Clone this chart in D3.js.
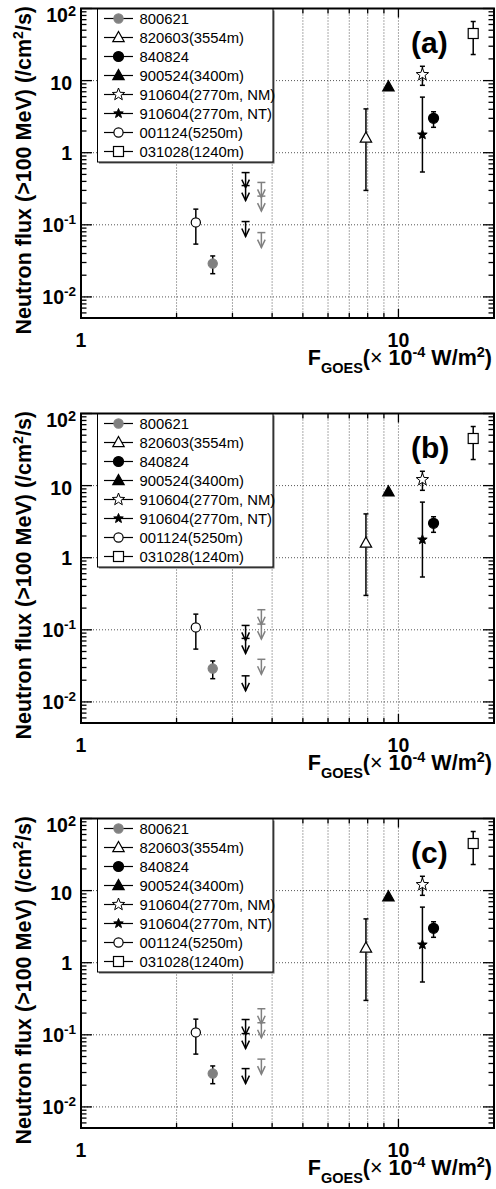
<!DOCTYPE html>
<html><head><meta charset="utf-8">
<script src="https://cdn.jsdelivr.net/npm/d3@7"></script>
<style>body{margin:0;background:#fff}svg{display:block}</style>
</head><body>
<script>
// ---------------- data ----------------
const events = ["800621","820603(3554m)","840824","900524(3400m)","910604(2770m, NM)","910604(2770m, NT)","001124(5250m)","031028(1240m)"];
const goesFlux    = [2.6, 7.9, 12.9, 9.3, 11.9, 11.9, 2.3, 17.2];
const neutronFlux = [0.029, 1.6, 3.0, 8.2, 12.1, 1.78, 0.108, 45];
const fluxHigh    = [0.037, 4.05, 3.7, null, 15.8, 5.9, 0.165, 66];
const fluxLow     = [0.021, 0.30, 2.25, null, 8.6, 0.54, 0.054, 23];

const panelNames = ["(a)","(b)","(c)"];
const limitGoesBlack = 3.3;
const limitGoesGray  = 3.7;
const limitsBlack = [[0.53, 0.35, 0.111],[0.115, 0.076, 0.023],[0.163, 0.104, 0.034]];
const limitsGray  = [[0.387, 0.25, 0.078],[0.19, 0.12, 0.039],[0.23, 0.147, 0.046]];

const xDomain = [1, 20];
const yDomain = [0.0051, 100];
const xTickValues = [1, 10];
const xTickLabels = ["1", "10"];
const yTickValues = [0.01, 0.1, 1, 10, 100];
const yTickBase = ["10","10","1","10","10"];
const yTickExp  = ["-2","-1","","","2"];
const yTitle = "Neutron flux (>100 MeV) (/cm";
// -------------------------------------

const W = 496, H = 1189;
const svg = d3.select("body").append("svg").attr("width", W).attr("height", H)
  .style("font-family", "'Liberation Sans', Arial, Helvetica, sans-serif");

const L = 81, R = 494, T = 8.5, B = 318;
const x = d3.scaleLog().domain(xDomain).range([L, R]);
const y = d3.scaleLog().domain(yDomain).range([B, T]);

const mStyle = [
  {type:"circle", fill:"#808080", stroke:"#808080", size:4.6},
  {type:"triangle", fill:"#fff", stroke:"#000", size:6},
  {type:"circle", fill:"#000", stroke:"#000", size:5},
  {type:"triangle", fill:"#000", stroke:"#000", size:6},
  {type:"star", fill:"#fff", stroke:"#000", size:6.5},
  {type:"star", fill:"#000", stroke:"#000", size:5},
  {type:"circle", fill:"#fff", stroke:"#000", size:4.6},
  {type:"square", fill:"#fff", stroke:"#000", size:5}
];

function drawMarker(g, i, cx, cy) {
  const s = mStyle[i];
  if (s.type === "circle") {
    g.append("circle").attr("cx", cx).attr("cy", cy).attr("r", s.size)
      .attr("fill", s.fill).attr("stroke", s.stroke).attr("stroke-width", 1.2);
  } else if (s.type === "square") {
    g.append("rect").attr("x", cx - s.size).attr("y", cy - s.size)
      .attr("width", 2*s.size).attr("height", 2*s.size)
      .attr("fill", s.fill).attr("stroke", s.stroke).attr("stroke-width", 1.2);
  } else if (s.type === "triangle") {
    const a = s.size;
    g.append("path").attr("d", `M${cx},${cy - a}L${cx + a*0.95},${cy + a*0.7}L${cx - a*0.95},${cy + a*0.7}Z`)
      .attr("fill", s.fill).attr("stroke", s.stroke).attr("stroke-width", 1.2);
  } else if (s.type === "star") {
    const pts = [];
    for (let k = 0; k < 10; k++) {
      const r = k % 2 === 0 ? s.size : s.size * 0.42;
      const ang = -Math.PI/2 + k * Math.PI / 5;
      pts.push([cx + r*Math.cos(ang), cy + r*Math.sin(ang)]);
    }
    g.append("path").attr("d", "M" + pts.map(p => p.join(",")).join("L") + "Z")
      .attr("fill", s.fill).attr("stroke", s.stroke).attr("stroke-width", 1);
  }
}

function drawLimit(g, xv, v, color) {
  const cx = x(xv), cy = y(v);
  const a = g.append("g").attr("stroke", color).attr("stroke-width", 1.5).attr("fill", "none");
  a.append("line").attr("x1", cx - 4).attr("x2", cx + 4).attr("y1", cy).attr("y2", cy);
  a.append("line").attr("x1", cx).attr("x2", cx).attr("y1", cy).attr("y2", cy + 15);
  a.append("path").attr("d", `M${cx - 3.8},${cy + 7}L${cx},${cy + 15}L${cx + 3.8},${cy + 7}`);
}

function minorTicks(dom) {
  const out = [];
  for (let e = -4; e <= 3; e++) for (let k = 2; k <= 9; k++) {
    const v = k * Math.pow(10, e);
    if (v > dom[0] * 1.0001 && v < dom[1] * 0.9999) out.push(v);
  }
  return out;
}

const panelOffsets = [0, 405, 810];

panelOffsets.forEach((off, p) => {
  const g = svg.append("g").attr("transform", `translate(0,${off})`);

  // grid
  const grid = g.append("g").attr("stroke", "#555").attr("stroke-width", 1).attr("stroke-dasharray", "1,2");
  [0.01, 0.1, 1, 10].forEach(v => grid.append("line").attr("x1", L).attr("x2", R).attr("y1", y(v)).attr("y2", y(v)));
  [2,3,4,5,6,7,8,9,10].forEach(v => grid.append("line").attr("x1", x(v)).attr("x2", x(v)).attr("y1", T).attr("y2", B));

  // ticks
  const tk = g.append("g").attr("stroke", "#000").attr("stroke-width", 1.3);
  yTickValues.forEach(v => {
    tk.append("line").attr("x1", L).attr("x2", L + 11).attr("y1", y(v)).attr("y2", y(v));
    tk.append("line").attr("x1", R).attr("x2", R - 11).attr("y1", y(v)).attr("y2", y(v));
  });
  minorTicks(yDomain).forEach(v => {
    const len = 5.5;
    tk.append("line").attr("x1", L).attr("x2", L + len).attr("y1", y(v)).attr("y2", y(v));
    tk.append("line").attr("x1", R).attr("x2", R - len).attr("y1", y(v)).attr("y2", y(v));
  });
  xTickValues.forEach(v => {
    tk.append("line").attr("x1", x(v)).attr("x2", x(v)).attr("y1", B).attr("y2", B - 9);
    tk.append("line").attr("x1", x(v)).attr("x2", x(v)).attr("y1", T).attr("y2", T + 9);
  });
  minorTicks(xDomain).forEach(v => {
    tk.append("line").attr("x1", x(v)).attr("x2", x(v)).attr("y1", B).attr("y2", B - 5);
    tk.append("line").attr("x1", x(v)).attr("x2", x(v)).attr("y1", T).attr("y2", T + 5);
  });

  // frame
  g.append("rect").attr("x", L).attr("y", T).attr("width", R - L).attr("height", B - T)
    .attr("fill", "none").attr("stroke", "#000").attr("stroke-width", 2);

  // y tick labels
  yTickValues.forEach((v, i) => {
    const hasExp = yTickExp[i] !== "";
    const pos = hasExp && +yTickExp[i] > 0;
    let by = y(v) + 7;
    if (!hasExp && v > 1) by = y(v) + 9.5;
    if (pos) by = Math.max(by, 21.7);
    const t = g.append("text").attr("x", hasExp ? 76 : 72).attr("y", by)
      .attr("text-anchor", "end").attr("font-weight", "bold").attr("font-size", 19.5);
    t.append("tspan").text(yTickBase[i]);
    if (hasExp) t.append("tspan").attr("dy", pos ? -5.5 : -8).attr("font-size", pos ? 14.5 : 13.5).text(yTickExp[i]);
  });
  // x tick labels
  xTickValues.forEach((v, i) => {
    g.append("text").attr("x", x(v)).attr("y", B + 29).attr("text-anchor", "middle")
      .attr("font-weight", "bold").attr("font-size", 19.5).text(xTickLabels[i]);
  });

  // axis titles
  const yt = g.append("text").attr("transform", `translate(31,6) rotate(-90)`)
    .attr("text-anchor", "end").attr("font-weight", "bold").attr("font-size", 21.5);
  yt.append("tspan").text(yTitle);
  yt.append("tspan").attr("dy", -8).attr("font-size", 14).text("2");
  yt.append("tspan").attr("dy", 8).text("/s)");

  const xt = g.append("text").attr("x", 492).attr("y", 365).attr("text-anchor", "end")
    .attr("font-weight", "bold").attr("font-size", 21.5);
  xt.append("tspan").text("F");
  xt.append("tspan").attr("dy", 8).attr("font-size", 14.5).text("GOES");
  xt.append("tspan").attr("dy", -8).text("(");
  xt.append("tspan").attr("font-weight", "normal").text("× ");
  xt.append("tspan").text("10");
  xt.append("tspan").attr("dy", -8).attr("font-size", 14.5).text("-4");
  xt.append("tspan").attr("dy", 8).text(" W/m");
  xt.append("tspan").attr("dy", -8).attr("font-size", 14.5).text("2");
  xt.append("tspan").attr("dy", 8).text(")");

  // panel label
  g.append("text").attr("x", 411).attr("y", 53).attr("font-weight", "bold").attr("font-size", 30)
    .text(panelNames[p]);

  // upper limits
  limitsBlack[p].forEach(v => drawLimit(g, limitGoesBlack, v, "#000"));
  limitsGray[p].forEach(v => drawLimit(g, limitGoesGray, v, "#808080"));

  // error bars + markers
  events.forEach((e, i) => {
    const cx = x(goesFlux[i]);
    if (fluxHigh[i] !== null) {
      const eb = g.append("g").attr("stroke", "#000").attr("stroke-width", 1.5);
      eb.append("line").attr("x1", cx).attr("x2", cx).attr("y1", y(fluxHigh[i])).attr("y2", y(fluxLow[i]));
      eb.append("line").attr("x1", cx - 2.5).attr("x2", cx + 2.5).attr("y1", y(fluxHigh[i])).attr("y2", y(fluxHigh[i]));
      eb.append("line").attr("x1", cx - 2.5).attr("x2", cx + 2.5).attr("y1", y(fluxLow[i])).attr("y2", y(fluxLow[i]));
    }
    drawMarker(g, i, cx, y(neutronFlux[i]));
  });

  // legend
  const lg = g.append("g");
  lg.append("rect").attr("x", 99).attr("y", 10.5).attr("width", 175.5).attr("height", 153).attr("fill", "#666");
  lg.append("rect").attr("x", 97.5).attr("y", 9).attr("width", 175.5).attr("height", 153)
    .attr("fill", "#fff").attr("stroke", "#000").attr("stroke-width", 1);
  events.forEach((e, i) => {
    const cy = 18.5 + i * 19;
    lg.append("line").attr("x1", 104).attr("x2", 133).attr("y1", cy).attr("y2", cy)
      .attr("stroke", "#000").attr("stroke-width", 1.2);
    drawMarker(lg, i, 118.5, cy);
    lg.append("text").attr("x", 139.5).attr("y", cy + 5.3).attr("font-size", 14.8).text(e);
  });
});
</script>
</body></html>
